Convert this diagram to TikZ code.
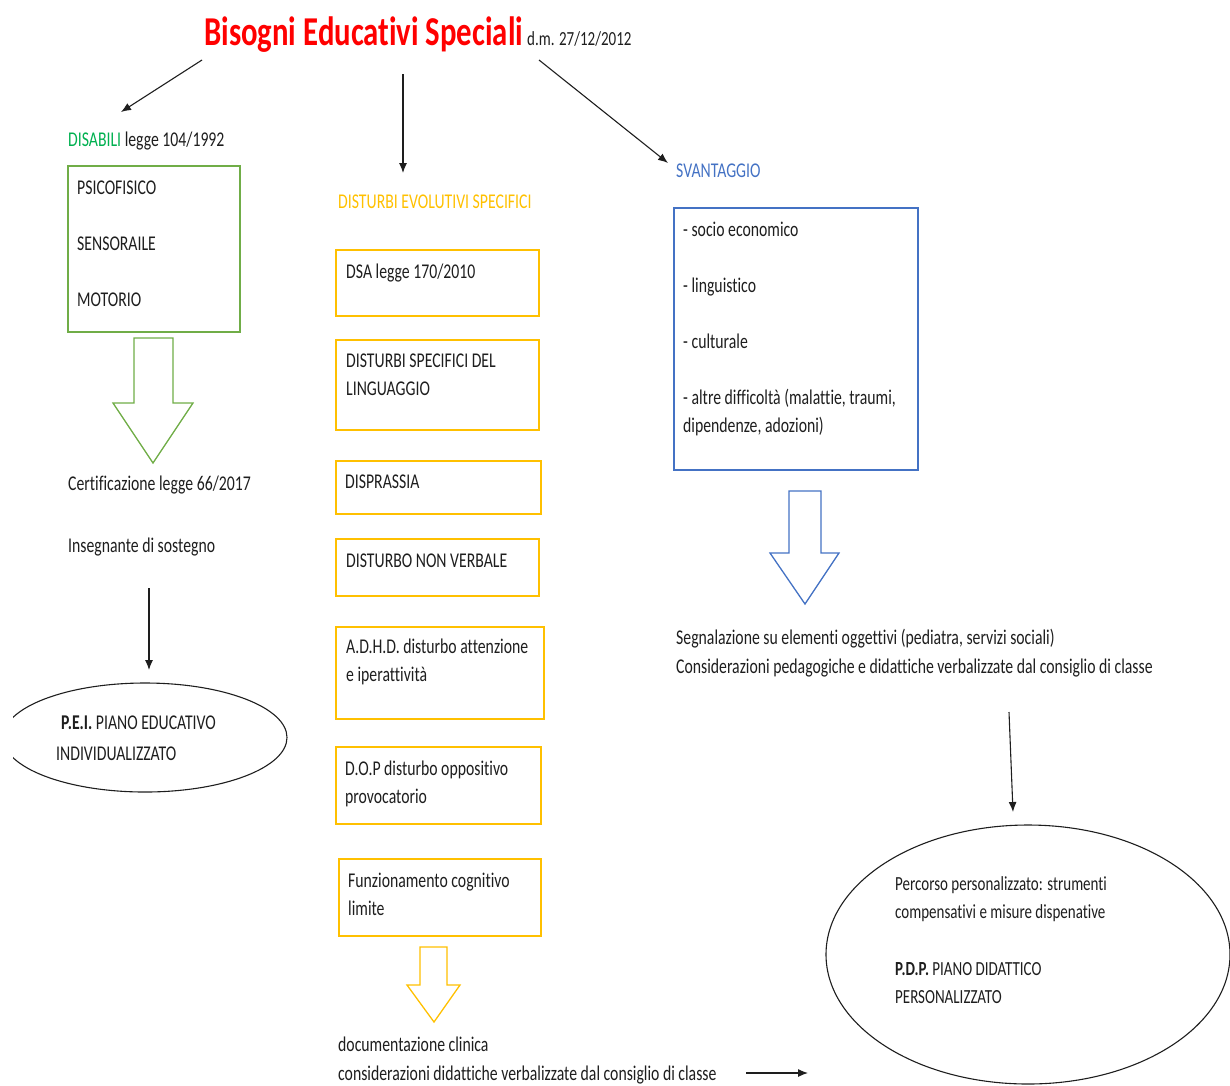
\documentclass[tikz,border=0pt]{standalone}
\usepackage{fontspec}
\setmainfont[FakeStretch=0.75,Ligatures=NoCommon]{Carlito}
\usetikzlibrary{arrows.meta,shapes.geometric}
\definecolor{titlered}{RGB}{255,0,0}
\definecolor{disgreen}{RGB}{0,176,80}
\definecolor{boxgreen}{RGB}{112,173,71}
\definecolor{devorange}{RGB}{255,192,0}
\definecolor{svblue}{RGB}{68,114,196}
\definecolor{ink}{RGB}{30,30,30}
\begin{document}
\begin{tikzpicture}[x=1pt,y=-1pt,
  txt/.style={font=\fontsize{21}{28}\selectfont, text=ink, inner sep=0pt, anchor=base west},
  boxg/.style={draw=boxgreen, line width=1.6pt, anchor=north west, inner sep=0pt},
  boxo/.style={draw=devorange, line width=1.6pt, anchor=north west, inner sep=0pt},
  boxb/.style={draw=svblue, line width=1.5pt, anchor=north west, inner sep=0pt},
  oval/.style={ellipse, draw=ink, line width=1.1pt, inner sep=0pt},
  conn/.style={draw=ink, line width=1.1pt, -{Latex[length=10pt,width=8pt]}},
  hollow/.style={line width=1.3pt, line join=miter, fill=white}
]
\path[use as bounding box] (0,0) rectangle (1230,1085);
\clip (0,0) rectangle (1230,1085);

% title
\node[anchor=base west, inner sep=0pt, font=\fontsize{41}{50}\selectfont\bfseries, text=titlered] (title) at (204,45) {Bisogni Educativi Speciali};
\node[txt, font=\fontsize{20}{28}\selectfont] (dm) at (527,45) {d.m. 27/12/2012};

% title arrows
\coordinate (a1s) at (202,60); \coordinate (a1e) at (121,112);
\coordinate (a2s) at (403,74); \coordinate (a2e) at (403,173);
\coordinate (a3s) at (539,60); \coordinate (a3e) at (668,163);
\draw[conn] (a1s) -- (a1e);
\draw[conn] (a2s) -- (a2e);
\draw[conn] (a3s) -- (a3e);

% ---------- left column
\node[txt] (dis) at (68,146) {\textcolor{disgreen}{DISABILI} legge 104/1992};
\node[boxg, minimum width=172pt, minimum height=166pt] (gbox) at (67,165) {};
\node[txt] (psi) at (77,194) {PSICOFISICO};
\node[txt] (sen) at (77,250) {SENSORAILE};
\node[txt] (mot) at (77,306) {MOTORIO};
\draw[hollow, draw=boxgreen] (134,338) -- (173,338) -- (173,403) -- (193,403) -- (153,463) -- (113,403) -- (134,403) -- cycle;
\node[txt] (cert) at (68,490) {Certificazione legge 66/2017};
\node[txt] (ins) at (68,552) {Insegnante di sostegno};
\coordinate (a4s) at (149,588); \coordinate (a4e) at (149,670);
\draw[conn] (a4s) -- (a4e);
\begin{scope}
\clip (13,600) rectangle (400,850);
\node[oval, minimum width=284pt, minimum height=109pt] (pei) at (145,737.5) {};
\end{scope}
\node[txt] (peit) at (61,729) {\textbf{P.E.I.} PIANO EDUCATIVO};
\node[txt] (peit2) at (56,760) {INDIVIDUALIZZATO};

% ---------- middle column
\node[txt, text=devorange] (dev) at (338,208) {DISTURBI EVOLUTIVI SPECIFICI};
\node[boxo, minimum width=203pt, minimum height=66pt] (dsa) at (335,249) {};
\node[txt] at (346,278) {DSA legge 170/2010};
\node[boxo, minimum width=203pt, minimum height=90pt] (ling) at (335,339) {};
\node[txt] at (346,367) {\begin{tabular}[t]{@{}l@{}}DISTURBI SPECIFICI DEL\\LINGUAGGIO\end{tabular}};
\node[boxo, minimum width=205pt, minimum height=53pt] (dispr) at (335,460) {};
\node[txt] at (345,488) {DISPRASSIA};
\node[boxo, minimum width=203pt, minimum height=57pt] (nonv) at (335,538) {};
\node[txt] at (346,567) {DISTURBO NON VERBALE};
\node[boxo, minimum width=208pt, minimum height=92pt] (adhd) at (335,626) {};
\node[txt] at (346,653) {\begin{tabular}[t]{@{}l@{}}A.D.H.D. disturbo attenzione\\e iperattività\end{tabular}};
\node[boxo, minimum width=205pt, minimum height=77pt] (dop) at (335,746) {};
\node[txt] at (345,775) {\begin{tabular}[t]{@{}l@{}}D.O.P disturbo oppositivo\\provocatorio\end{tabular}};
\node[boxo, minimum width=202pt, minimum height=77pt] (fcl) at (338,858) {};
\node[txt] at (348,887) {\begin{tabular}[t]{@{}l@{}}Funzionamento cognitivo\\limite\end{tabular}};
\draw[hollow, draw=devorange] (420,947) -- (447,947) -- (447,985) -- (460,985) -- (434,1022) -- (407,985) -- (420,985) -- cycle;
\node[txt] (doc) at (338,1051) {documentazione clinica};
\node[txt] (cons) at (338,1080) {considerazioni didattiche verbalizzate dal consiglio di classe};
\coordinate (a5s) at (746,1073); \coordinate (a5e) at (808,1073);
\draw[conn] (a5s) -- (a5e);

% ---------- right column
\node[txt, text=svblue] (sv) at (676,177) {SVANTAGGIO};
\node[boxb, minimum width=244pt, minimum height=262pt] (bbox) at (673,207) {};
\node[txt] (svl) at (683,236) {\begin{tabular}[t]{@{}l@{}}- socio economico\\[28pt]- linguistico\\[28pt]- culturale\\[28pt]- altre difficoltà (malattie, traumi,\\dipendenze, adozioni)\end{tabular}};
\draw[hollow, draw=svblue] (789,491) -- (821,491) -- (821,553) -- (839,553) -- (805,604) -- (770,553) -- (789,553) -- cycle;
\node[txt] (seg) at (676,644) {Segnalazione su elementi oggettivi (pediatra, servizi sociali)};
\node[txt] (cpd) at (676,673) {Considerazioni pedagogiche e didattiche verbalizzate dal consiglio di classe};
\coordinate (a6s) at (1009,712); \coordinate (a6e) at (1013,812);
\draw[conn] (a6s) -- (a6e);
\node[oval, minimum width=404pt, minimum height=259pt] (pdp) at (1028,954.5) {};
\node[txt, font=\fontsize{20}{28}\selectfont] (pdpt) at (895,890) {\begin{tabular}[t]{@{}l@{}}Percorso personalizzato: strumenti\\compensativi e misure dispenative\\[29pt]\textbf{P.D.P.} PIANO DIDATTICO\\PERSONALIZZATO\end{tabular}};
\end{tikzpicture}
\end{document}
